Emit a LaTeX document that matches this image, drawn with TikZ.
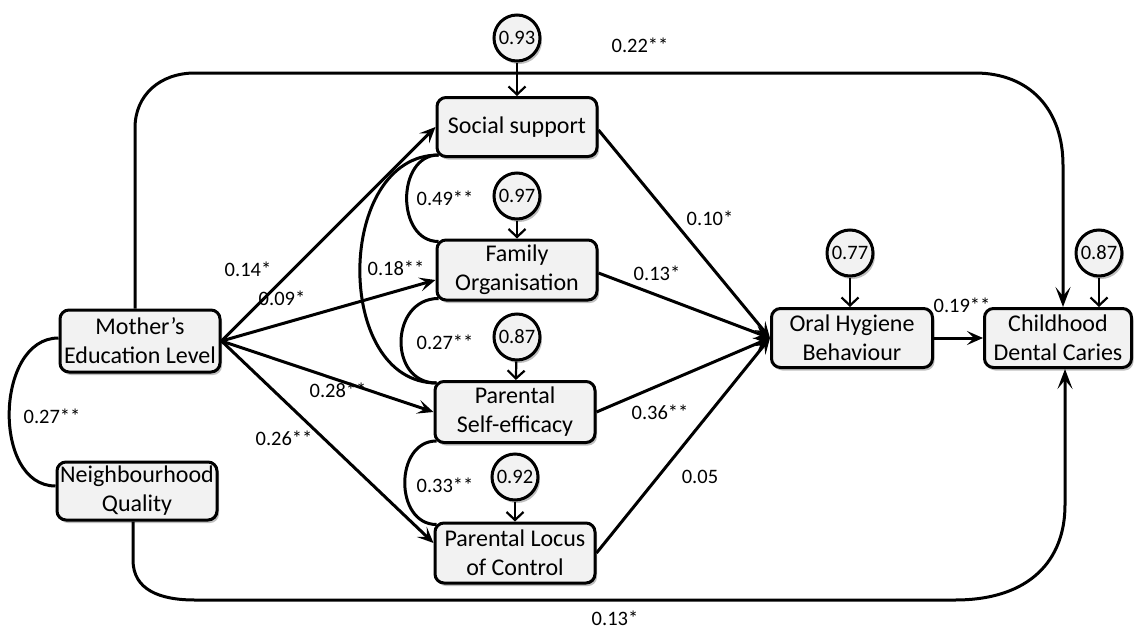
\documentclass[tikz,border=0pt]{standalone}
\usepackage{fontspec}
\setmainfont{Carlito}
\usetikzlibrary{arrows.meta,shadows}
\begin{document}
\begin{tikzpicture}[x=1pt,y=-1pt,
  box/.style={draw, line width=3pt, rounded corners=9pt, fill=black!5,
    minimum width=160pt, minimum height=60pt, inner sep=1pt, align=center,
    font=\fontsize{24}{29}\selectfont,
    drop shadow={shadow xshift=2pt,shadow yshift=-3pt,fill=black!50}},
  err/.style={circle, draw, line width=3pt, fill=black!5, minimum size=46pt,
    inner sep=0pt, font=\fontsize{20.5}{24}\selectfont,
    drop shadow={shadow xshift=2pt,shadow yshift=-3pt,fill=black!50}},
  lab/.style={font=\fontsize{20.5}{24}\selectfont, inner sep=1pt},
  conn/.style={line width=3pt, -{Stealth[length=16pt,width=14pt,inset=7pt]}},
  loopconn/.style={line width=3pt, -{Stealth[length=20pt,width=15pt,inset=9pt]}},
  corr/.style={line width=3pt},
  errarr/.style={line width=2.2pt, -{Straight Barb[length=8pt,width=17pt]}},
]
\useasboundingbox (0,0) rectangle (1136,635);

% boxes
\node[box, minimum height=62pt] (mel) at (140,341) {Mother’s\\Education Level};
\node[box, minimum height=58pt] (nq) at (137,491) {Neighbourhood\\Quality};
\node[box, minimum height=59pt] (ss) at (517,127) {Social support};
\node[box] (fo) at (517,270) {Family\\Organisation};
\node[box, minimum height=61pt] (pse) at (515,412) {Parental\\Self-efficacy};
\node[box] (plc) at (515,553) {Parental Locus\\of Control};
\node[box, minimum width=161pt, minimum height=59pt] (ohb) at (852,338) {Oral Hygiene\\Behaviour};
\node[box, minimum width=147pt, minimum height=59pt] (cdc) at (1058,338) {Childhood\\Dental Caries};

% error terms
\node[err] (e93) at (517,38) {0.93};
\node[err] (e97) at (517,196) {0.97};
\node[err] (e87a) at (517,337) {0.87};
\node[err] (e92) at (515,477) {0.92};
\node[err] (e77) at (850,253) {0.77};
\node[err] (e87b) at (1099,253) {0.87};

% top and bottom loops
\draw[loopconn] ([xshift=-5pt]mel.north) -- (135,128) .. controls (135,95) and (160,73) .. (195,73)
  -- (975,73) .. controls (1030,73) and (1063,110) .. (1063,165) -- ([xshift=5pt]cdc.north);
\draw[loopconn] ([xshift=-4pt]nq.south) -- (133,560) .. controls (133,590) and (160,600) .. (195,600)
  -- (955,600) .. controls (1030,600) and (1065,560) .. (1065,505) -- ([xshift=7pt]cdc.south);

% correlations
\draw[corr] ([yshift=3pt]mel.west) to[out=180,in=180,looseness=1.1] ([yshift=5pt]nq.west);
\draw[corr] ([xshift=3pt,yshift=3pt]ss.south west) to[out=180,in=180,looseness=1.26] ([xshift=3pt,yshift=-3pt]fo.north west);
\draw[corr] ([xshift=3pt,yshift=3pt]ss.south west) to[out=180,in=180,looseness=1.16] ([xshift=3pt,yshift=-3pt]pse.north west);
\draw[corr] ([xshift=3pt,yshift=3pt]fo.south west) to[out=180,in=180,looseness=1.47] ([xshift=3pt,yshift=-3pt]pse.north west);
\draw[corr] ([xshift=3pt,yshift=3pt]pse.south west) to[out=180,in=180,looseness=1.3] ([xshift=3pt,yshift=-3pt]plc.north west);

% paths
\draw[conn] (mel.east) -- (ss.west);
\draw[conn] (mel.east) -- ([yshift=-10pt]fo.west);
\draw[conn] (mel.east) -- (pse.west);
\draw[conn] (mel.east) -- ([yshift=10pt]plc.west);
\draw[conn] ([yshift=-3pt]ss.east) -- (ohb.west);
\draw[conn] ([yshift=-3pt]fo.east) -- (ohb.west);
\draw[conn] (pse.east) -- (ohb.west);
\draw[conn] (plc.east) -- (ohb.west);
\draw[conn] (ohb.east) -- (cdc.west);

% error arrows
\draw[errarr] (e93) -- (ss);
\draw[errarr] (e97) -- (fo);
\draw[errarr] (e87a) -- (pse);
\draw[errarr] (e92) -- (plc);
\draw[errarr] (e77.south) -- (e77.south |- ohb.north);
\draw[errarr] (e87b.south) -- (e87b.south |- cdc.north);

% labels
\node[lab] (l22) at (640,45) {0.22**};
\node[lab] (l13b) at (615,618) {0.13*};
\node[lab] (l27a) at (52,416) {0.27**};
\node[lab] (l14) at (248,269) {0.14*};
\node[lab] (l09) at (282,298) {0.09*};
\node[lab] (l18) at (396,268) {0.18**};
\node[lab] (l49) at (445,198) {0.49**};
\node[lab] (l27b) at (445,342) {0.27**};
\node[lab] (l33) at (445,485) {0.33**};
\node[lab] (l28) at (338,390) {0.28**};
\node[lab] (l26) at (284,438) {0.26**};
\node[lab] (l10) at (710,218) {0.10*};
\node[lab] (l13a) at (657,273) {0.13*};
\node[lab] (l36) at (660,412) {0.36**};
\node[lab] (l05) at (700,477) {0.05};
\node[lab] (l19) at (962,305) {0.19**};
\end{tikzpicture}
\end{document}
